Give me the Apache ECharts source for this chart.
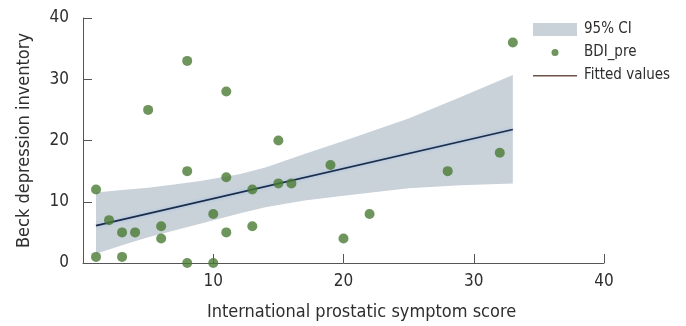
<!DOCTYPE html>
<html>
<head>
<meta charset="utf-8">
<script src="https://cdn.jsdelivr.net/npm/echarts@6/dist/echarts.min.js"></script>
<style>
html,body{margin:0;padding:0;background:#fff;}
#chart{width:686px;height:326px;}
</style>
</head>
<body>
<div id="chart"></div>
<script>
// Observed data (International prostatic symptom score vs Beck depression inventory)
var ipssX = [1,1,2,3,3,4,5,6,6,8,8,8,10,10,11,11,11,13,13,15,15,16,19,20,22,28,32,33];
var bdiY  = [12,1,7,5,1,5,25,6,4,33,15,0,8,0,28,14,5,12,6,20,13,13,16,4,8,15,18,36];

// Fitted values (end points)
var fitX = [1, 33];
var fitY = [6.1, 21.8];

// 95% CI band
var ciX     = [1,   3,    5,    7,    9,    12,   14,   17,   20,   25,   29,   33];
var ciLower = [1.5, 2.9,  4.2,  5.3,  6.4,  8.1,  9.1,  10.2, 11.0, 12.2, 12.7, 13.0];
var ciUpper = [11.5,11.9, 12.3, 12.8, 13.4, 14.5, 15.6, 17.8, 19.9, 23.6, 27.1, 30.7];

var xTicks = [0,10,20,30,40];
var yTicks = [0,10,20,30,40];

var FONT = "'DejaVu Sans Condensed','Liberation Sans',sans-serif";
var TXT = '#2e2e2e';

var chart = echarts.init(document.getElementById('chart'), null, {renderer:'canvas'});

var scatterData = ipssX.map(function(x,i){return [x, bdiY[i]];});
var fitData = fitX.map(function(x,i){return [x, fitY[i]];});
var ciData = ciX.map(function(x,i){return [x, ciLower[i], ciUpper[i]];});

var option = {
  animation:false,
  backgroundColor:'#ffffff',
  textStyle:{fontFamily:FONT},
  grid:{left:83, right:82, top:18, bottom:62, containLabel:false},
  legend:{
    orient:'vertical', left:533, top:22, padding:0,
    itemWidth:44, itemHeight:13, itemGap:8,
    textStyle:{fontFamily:FONT, fontSize:15, color:TXT, padding:[0,0,0,2]},
    data:[
      {name:'95% CI', icon:'rect', itemStyle:{color:'#c9d1d9'}},
      {name:'BDI_pre', icon:'path://M0,0 M44,13 M18.5,6.5 a3.5,3.5 0 1,0 7,0 a3.5,3.5 0 1,0 -7,0 Z', itemStyle:{color:'#4a7b33'}},
      {name:'Fitted values', icon:'path://M0,0 M44,13 M0,6 L44,6 L44,7.5 L0,7.5 Z', itemStyle:{color:'#6e5246'}}
    ]
  },
  xAxis:{
    type:'value', min:xTicks[0], max:xTicks[xTicks.length-1], interval:10,
    name:'International prostatic symptom score', nameLocation:'middle', nameGap:40,
    nameTextStyle:{fontFamily:FONT, fontSize:18, color:TXT, padding:[0,0,0,36]},
    axisLine:{onZero:false, lineStyle:{color:'#555', width:1}},
    axisTick:{inside:true, length:9, lineStyle:{color:'#555'}},
    axisLabel:{fontFamily:FONT, fontSize:17, color:TXT, margin:10,
      formatter:function(v){return v===0?'':String(v);}},
    splitLine:{show:false}
  },
  yAxis:{
    type:'value', min:yTicks[0], max:yTicks[yTicks.length-1], interval:10,
    name:'Beck depression inventory', nameLocation:'middle', nameGap:50,
    nameTextStyle:{fontFamily:FONT, fontSize:18, color:TXT},
    axisLine:{onZero:false, lineStyle:{color:'#555', width:1}},
    axisTick:{inside:true, length:9, lineStyle:{color:'#555'}},
    axisLabel:{fontFamily:FONT, fontSize:17, color:TXT, margin:14},
    splitLine:{show:false}
  },
  series:[
    {
      name:'95% CI', type:'custom', data:ciData, z:1,
      itemStyle:{color:'#c9d1d9'},
      renderItem:function(params, api){
        if(params.dataIndex !== 0) return;
        var pts = [];
        for(var i=0;i<ciData.length;i++) pts.push(api.coord([ciData[i][0], ciData[i][2]]));
        for(var j=ciData.length-1;j>=0;j--) pts.push(api.coord([ciData[j][0], ciData[j][1]]));
        return {type:'polygon', shape:{points:pts}, style:{fill:'#c9d1d9'}};
      },
      encode:{x:0, y:[1,2]}
    },
    {
      name:'Fitted values', type:'line', data:fitData, z:3,
      symbol:'none',
      lineStyle:{color:'#1d2a48', width:1.6, shadowColor:'rgba(140,190,235,0.9)', shadowBlur:3},
      itemStyle:{color:'#1d2a48'}
    },
    {
      name:'BDI_pre', type:'scatter', data:scatterData, z:4,
      symbolSize:10,
      itemStyle:{color:'#4a7b33'}
    }
  ]
};
chart.setOption(option);
</script>
</body>
</html>
